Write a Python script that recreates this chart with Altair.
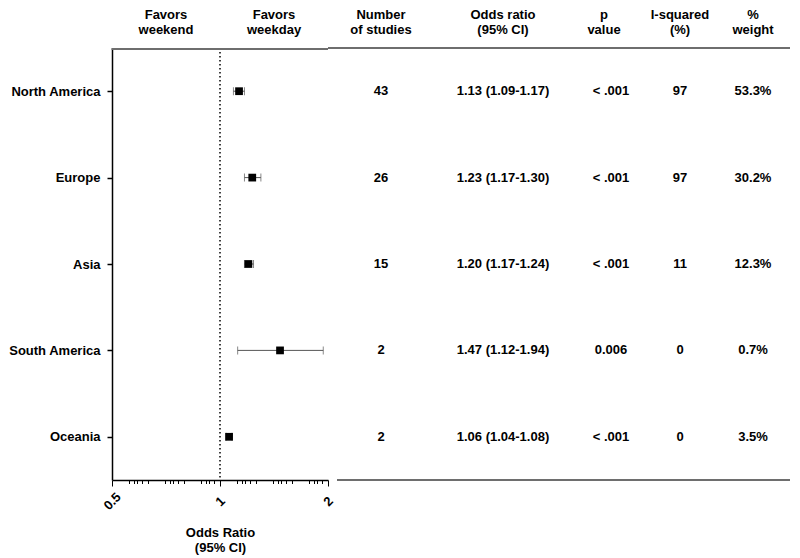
import altair as alt
import pandas as pd

# ---- data ----
regions = ["North America", "Europe", "Asia", "South America", "Oceania"]
n_studies = [43, 26, 15, 2, 2]
odds_ratio = [1.13, 1.23, 1.20, 1.47, 1.06]
ci_low = [1.09, 1.17, 1.17, 1.12, 1.04]
ci_high = [1.17, 1.30, 1.24, 1.94, 1.08]
or_text = ["1.13 (1.09-1.17)", "1.23 (1.17-1.30)", "1.20 (1.17-1.24)",
           "1.47 (1.12-1.94)", "1.06 (1.04-1.08)"]
p_values = ["< .001", "< .001", "< .001", "0.006", "< .001"]
i_squared = [97, 97, 11, 0, 0]
weights = ["53.3%", "30.2%", "12.3%", "0.7%", "3.5%"]

favors_labels = ["Favors\nweekend", "Favors\nweekday"]
favors_pos = [0.7071, 1.4142]
ref_value = [1.0]

major_ticks = [0.5, 1, 2]
minor_ticks = [0.5583, 0.5746, 0.5876, 0.6078, 0.6300,
               0.7034, 0.7240, 0.7404, 0.7658, 0.7937,
               0.8862, 0.9121, 0.9328, 0.9648,
               1.1166, 1.1493, 1.1753, 1.2156, 1.2599,
               1.4068, 1.4480, 1.4808, 1.5316, 1.5874,
               1.7724, 1.8243, 1.8656, 1.9297]

FONT = "Liberation Sans"
W_L, W_R, H = 216, 462, 432

df = pd.DataFrame({
    "region": regions, "n": n_studies, "or": odds_ratio, "lo": ci_low,
    "hi": ci_high, "or_text": or_text, "p": p_values, "i2": i_squared,
    "w": weights,
})
one = pd.DataFrame({"k": [0]})

xscale = alt.Scale(type="log", domain=[0.5, 2], nice=False)
x_axis = alt.Axis(
    values=major_ticks + minor_ticks,
    labelExpr="datum.value == 0.5 ? '0.5' : datum.value == 1 ? '1' : datum.value == 2 ? '2' : ''",
    tickSize={"condition": {"test": "datum.value == 0.5 || datum.value == 1 || datum.value == 2",
                            "value": 6}, "value": 3.5},
    tickColor="black", tickWidth=1, domainColor="black", domainWidth=1.5,
    labelAngle=-45, labelAlign="center", labelBaseline="middle", labelPadding=15,
    labelFont=FONT, labelFontSize=13, labelFontWeight="bold", labelColor="black",
    labelOverlap=False, labelFlush=False, labelBound=False, grid=False,
    title=["Odds Ratio", "(95% CI)"], titleFont=FONT, titleFontSize=13,
    titleFontWeight="bold", titleColor="black", titlePadding=14, titleLineHeight=15,
)
yscale = alt.Scale(type="point", padding=0.5)
y_axis = alt.Axis(
    title=None, labelFont=FONT, labelFontSize=13, labelFontWeight="bold",
    labelColor="black", labelPadding=7, tickSize=5, tickColor="black",
    tickWidth=1.5, domainColor="black", domainWidth=1.5, grid=False,
)


def X(field):
    return alt.X(field, scale=xscale, axis=x_axis)


Y_left = alt.Y("region:N", sort=regions, scale=yscale, axis=y_axis)
Y_right = alt.Y("region:N", sort=regions, scale=yscale, axis=None)

base = alt.Chart(df)

ref_rule = alt.Chart(pd.DataFrame({"ref": ref_value})).mark_rule(
    color="black", strokeWidth=1.5, strokeDash=[1.5, 2.5]
).encode(x=X("ref:Q"))

ci_line = base.mark_rule(color="#555555", strokeWidth=1).encode(
    x=X("lo:Q"), x2="hi:Q", y=Y_left)
cap_lo = base.mark_tick(color="#555555", thickness=1, size=8, orient="vertical").encode(
    x=X("lo:Q"), y=Y_left)
cap_hi = base.mark_tick(color="#555555", thickness=1, size=8, orient="vertical").encode(
    x=X("hi:Q"), y=Y_left)
points = base.mark_square(size=60, color="black", opacity=1).encode(
    x=X("or:Q"), y=Y_left)

favors = alt.Chart(pd.DataFrame({"pos": favors_pos, "label": favors_labels})).mark_text(
    font=FONT, fontSize=13, fontWeight="bold", color="black", lineBreak="\n",
    lineHeight=15, baseline="alphabetic", align="center"
).encode(x=X("pos:Q"), y=alt.value(-29.5), text="label:N")

top_left = alt.Chart(one).mark_rule(color="#6e6e6e", strokeWidth=2).encode(
    x=alt.value(-0.5), x2=alt.value(W_L), y=alt.value(1))

left = alt.layer(ref_rule, ci_line, cap_lo, cap_hi, points, favors, top_left).properties(
    width=W_L, height=H)

# ---- right text table ----
columns = [
    ("Number\nof studies", "n", 53, 53),
    ("Odds ratio\n(95% CI)", "or_text", 175, 175),
    ("p\nvalue", "p", 276, 283),
    ("I-squared\n(%)", "i2", 352, 352),
    ("%\nweight", "w", 425, 425),
]
right_layers = []
for header, field, hx, vx in columns:
    right_layers.append(
        alt.Chart(pd.DataFrame({"h": [header]})).mark_text(
            font=FONT, fontSize=13, fontWeight="bold", color="black", lineBreak="\n",
            lineHeight=15, baseline="alphabetic", align="center"
        ).encode(x=alt.value(hx), y=alt.value(-29.5), text="h:N")
    )
    right_layers.append(
        base.mark_text(font=FONT, fontSize=13, fontWeight="bold", color="black",
                       align="center", baseline="middle").encode(
            x=alt.value(vx), y=Y_right, text=f"{field}:N")
    )

top_right = alt.Chart(one).mark_rect(color="#6e6e6e", opacity=1).encode(
    x=alt.value(0), x2=alt.value(W_R), y=alt.value(-1), y2=alt.value(1))
bottom_right = alt.Chart(one).mark_rule(color="#6e6e6e", strokeWidth=2).encode(
    x=alt.value(9), x2=alt.value(W_R), y=alt.value(H))

right = alt.layer(top_right, bottom_right, *right_layers).properties(width=W_R, height=H)

chart = alt.hconcat(left, right, spacing=0, bounds="flush").properties(
    padding={"left": 0, "top": 0, "right": 0, "bottom": 0}
).configure_view(stroke=None)

chart.save("out.html", embed_options={"renderer": "svg", "actions": False})
